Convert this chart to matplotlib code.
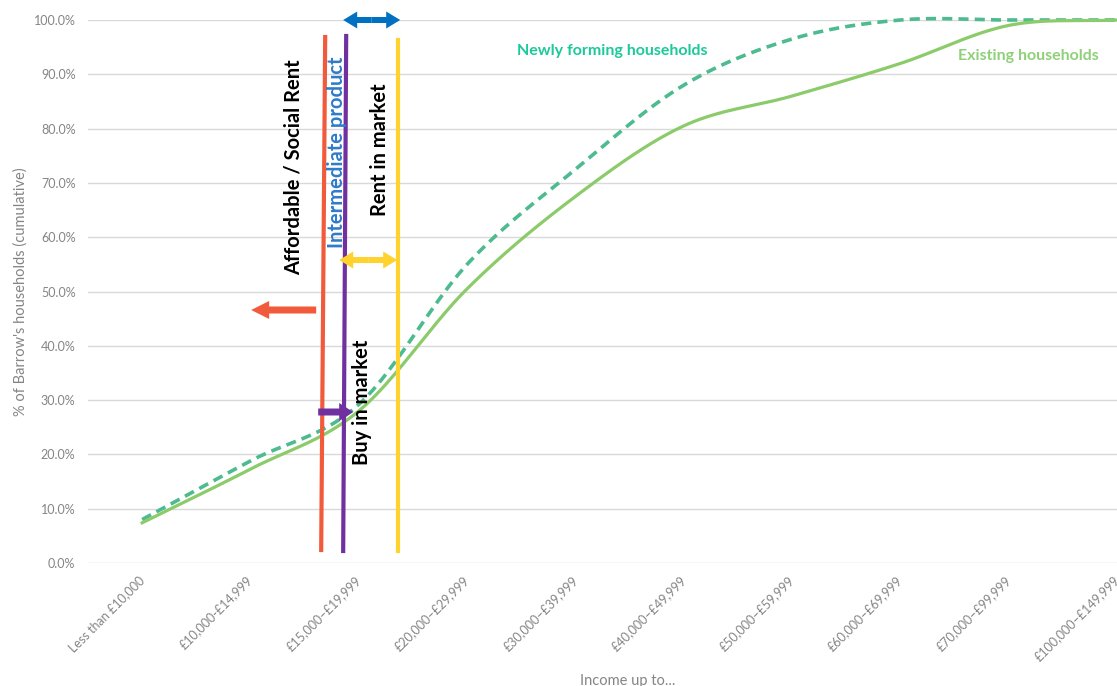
import numpy as np
import matplotlib
matplotlib.use("Agg")
import matplotlib.pyplot as plt
from matplotlib.patches import FancyArrow
from matplotlib.transforms import ScaledTranslation

plt.rcParams['font.family'] = ['Lato', 'DejaVu Sans']

# Income bands (upper bound of each band)
income_bands = [
    "Less than £10,000", "£10,000-£14,999", "£15,000–£19,999", "£20,000–£29,999",
    "£30,000–£39,999", "£40,000–£49,999", "£50,000–£59,999", "£60,000–£69,999",
    "£70,000–£99,999", "£100,000–£149,999",
]
# Cumulative share of households (%)
existing_households = [7.4, 17.3, 28.0, 50.5, 67.5, 80.5, 86.0, 92.0, 99.0, 100.0]
newly_forming = [8.0, 18.8, 29.2, 55.0, 72.5, 88.0, 96.5, 100.0, 100.0, 100.0]

y_ticks = [0, 10, 20, 30, 40, 50, 60, 70, 80, 90, 100]


def smooth(values, n=40):
    """Cubic Hermite (Catmull-Rom) smoothing over evenly spaced categories."""
    y = np.asarray(values, dtype=float)
    # reflected ghost points at both ends keep the end segments straight-ish
    ext = np.concatenate([[2 * y[0] - y[1]], y, [2 * y[-1] - y[-2]]])
    xs, ys = [], []
    for i in range(len(y) - 1):
        p0, p1, p2, p3 = ext[i], ext[i + 1], ext[i + 2], ext[i + 3]
        m1 = (p2 - p0) / 2.0
        m2 = (p3 - p1) / 2.0
        t = np.linspace(0, 1, n, endpoint=(i == len(y) - 2))
        h00 = 2 * t**3 - 3 * t**2 + 1
        h10 = t**3 - 2 * t**2 + t
        h01 = -2 * t**3 + 3 * t**2
        h11 = t**3 - t**2
        xs.append(i + t)
        ys.append(h00 * p1 + h10 * m1 + h01 * p2 + h11 * m2)
    return np.concatenate(xs), np.concatenate(ys)


W, H = 1117, 686
fig = plt.figure(figsize=(W / 100, H / 100), dpi=100)
ax_left, ax_right, ax_top, ax_bottom = 88, 1117, 20, 563
ax = fig.add_axes([ax_left / W, 1 - ax_bottom / H, (ax_right - ax_left) / W,
                   (ax_bottom - ax_top) / H])

x = np.arange(len(income_bands))
ax.set_xlim(-0.5, 9.0)
ax.set_ylim(0, 100)

for s in ax.spines.values():
    s.set_visible(False)
ax.set_yticks(y_ticks)
ax.set_yticklabels([f"{v:.1f}%" for v in y_ticks], fontsize=9, color="#858585")
ax.yaxis.grid(True, color="#d9d9d9", lw=1.0)
ax.set_axisbelow(True)
ax.tick_params(axis='both', length=0)
ax.tick_params(axis='y', pad=9)
ax.set_xticks(x)
ax.set_xticklabels(income_bands, rotation=45, ha='right', va='top',
                   rotation_mode='anchor', fontsize=9, color="#858585")
ax.tick_params(axis='x', pad=8)
shift = ScaledTranslation(-4 / 100, 0, fig.dpi_scale_trans)
for lbl in ax.get_xticklabels():
    lbl.set_transform(lbl.get_transform() + shift)

ax.set_ylabel("% of Barrow's households (cumulative)", fontsize=10.5,
              color="#858585", labelpad=4)
fig.text(628 / W, 1 - 681 / H, "Income up to...", fontsize=10.5, color="#858585",
         ha='center', va='center')

# Cumulative curves
sx, sy = smooth(newly_forming)
ax.plot(sx, sy, color="#4dbb8f", lw=2.6, ls=(0, (2.8, 1.7)), clip_on=False,
        solid_capstyle='butt', zorder=3)
sx, sy = smooth(existing_households)
ax.plot(sx, sy, color="#8bcb6a", lw=2.3, clip_on=False, zorder=3)


def px_x(px):
    return (px - 142.0) / 108.3


def px_y(py):
    return (ax_bottom - py) / (ax_bottom - ax_top) * 100


# Tenure thresholds
ax.plot([px_x(325), px_x(321)], [px_y(37), px_y(550)], color="#f15a3a", lw=3.0, zorder=4)
ax.plot([px_x(346), px_x(343)], [px_y(36), px_y(551)], color="#7030a0", lw=3.0, zorder=4)
ax.plot([px_x(398), px_x(398)], [px_y(40), px_y(551)], color="#ffd22e", lw=3.0, zorder=4)


def arrow(x0, x1, ypx, color, body, head_w, head_l):
    """Horizontal arrow from pixel x0 to pixel x1 at height ypx."""
    sy = 100 / (ax_bottom - ax_top)
    a = FancyArrow(px_x(x0), px_y(ypx), px_x(x1) - px_x(x0), 0,
                   width=body * sy, head_width=head_w * sy, head_length=head_l / 108.3,
                   length_includes_head=True, color=color, lw=0, zorder=5,
                   clip_on=False)
    ax.add_patch(a)


def double_arrow(x0, x1, ypx, color, body, head_w, head_l):
    mid = (x0 + x1) / 2
    arrow(mid, x0, ypx, color, body, head_w, head_l)
    arrow(mid, x1, ypx, color, body, head_w, head_l)


double_arrow(343, 400, 20, "#0070c0", 6, 17, 14)
double_arrow(339, 397, 260, "#ffd22e", 6, 17, 14)
arrow(316, 251, 310, "#f15a3a", 7, 18, 18)
arrow(318, 353, 412, "#7030a0", 7, 18, 14)

# Tenure labels
lab = dict(rotation=90, fontsize=14.5, fontweight='bold', ha='center',
           va='center', zorder=6)
ax.text(px_x(293), px_y(167), "Affordable / Social Rent", color="black", **lab)
ax.text(px_x(337), px_y(152), "Intermediate product", color="#2e7bc8", **lab)
ax.text(px_x(380), px_y(150), "Rent in market", color="black", **lab)
ax.text(px_x(362), px_y(402), "Buy in market", color="black", **lab)

# Series labels
ax.text(px_x(612), px_y(51), "Newly forming households", fontsize=11.5,
        fontweight='bold', color="#1bc99a", ha='center', va='center')
ax.text(px_x(1028), px_y(56), "Existing households", fontsize=11.5,
        fontweight='bold', color="#8fd078", ha='center', va='center')

fig.savefig("out.png", dpi=100)
